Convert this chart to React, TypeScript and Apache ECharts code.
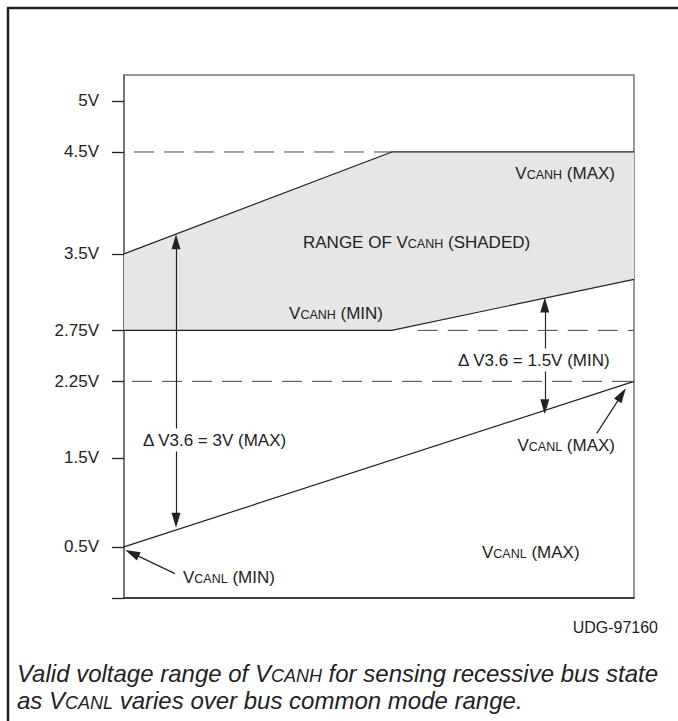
import React, { useEffect, useRef } from "react";
import * as echarts from "echarts";

// ---- data (volts); x = normalized position across bus common-mode range ----
const xPos = [0, 5.25, 10];
const vcanhMax = [3.5, 4.5, 4.5];
const vcanhMin = [2.75, 2.75, 3.25];
const vcanlX = [0, 10];
const vcanlMax = [0.5, 2.25];

const ref45X = [0, 5.25];
const ref45V = [4.5, 4.5];
const ref275X = [5.76, 10];
const ref275V = [2.75, 2.75];
const ref225X = [0, 10];
const ref225V = [2.25, 2.25];

const yTickVolts = [5, 4.5, 3.5, 2.75, 2.25, 1.5, 0.5];
const yTickLabels = ["5V", "4.5V", "3.5V", "2.75V", "2.25V", "1.5V", "0.5V"];

// annotation arrows: [x1, v1, x2, v2]
const arrow3V = [1.02, 3.62, 1.02, 0.8];
const arrow15V = [8.25, 3.0, 8.25, 2.0];
const arrowCanlMax = [9.27, 1.74, 9.76, 2.12];
const arrowCanlMin = [1.0, 0.2, 0.157, 0.43];

// the drawing's voltage axis is compressed below 1.5V
const toAxis = (v: number) => (v >= 1.5 ? v : 1.5 - (1.5 - v) * 0.874);
const Y_MIN = 0.125;
const Y_MAX = 5.255;

const FONT = "'Liberation Sans', Arial, Helvetica, sans-serif";
const INK = "#222";

const pts = (xs: number[], vs: number[]) => xs.map((x, i) => [x, toAxis(vs[i])]);

function richLabel(size: number, small: number, italic = false) {
  const base = {
    fontFamily: FONT,
    fill: INK,
    color: INK,
    verticalAlign: "bottom",
    fontStyle: italic ? "italic" : "normal",
  };
  return {
    n: { ...base, fontSize: size },
    s: { ...base, fontSize: small },
  };
}

const R17 = richLabel(17, 12.5);
const R24 = richLabel(24, 18, true);

function txt(text: string, x: number, y: number, align: string, rich: any, bg = false, extra: any = {}) {
  return {
    type: "text",
    x,
    y,
    z: 100,
    style: {
      text,
      rich,
      textAlign: align,
      textVerticalAlign: "middle",
      backgroundColor: bg ? "#fff" : undefined,
      padding: bg ? [3, 2] : 0,
      ...extra,
    },
  };
}

function arrowItem(a: number[], both: boolean) {
  return [
    { coord: [a[0], toAxis(a[1])], symbol: both ? "triangle" : "none" },
    { coord: [a[2], toAxis(a[3])], symbol: "triangle" },
  ];
}

export default function App() {
  const ref = useRef<HTMLDivElement>(null);
  useEffect(() => {
    if (!ref.current) return;
    const chart = echarts.init(ref.current, null, { renderer: "svg" });
    const dashed = (xs: number[], vs: number[], offset: number) => ({
      type: "line",
      data: pts(xs, vs),
      symbol: "none",
      silent: true,
      z: 3,
      lineStyle: { color: "#444", width: 1, type: [20, 10], dashOffset: offset },
    });
    const option: any = {
      animation: false,
      backgroundColor: "#fff",
      grid: {
        left: 124,
        right: 44,
        top: 75,
        bottom: 123,
        show: true,
        borderColor: "#777",
        borderWidth: 1.5,
        backgroundColor: "transparent",
      },
      xAxis: {
        type: "value",
        min: 0,
        max: 10,
        axisLine: { show: true, onZero: false, lineStyle: { color: INK, width: 1.5 } },
        axisTick: { show: false },
        axisLabel: { show: false },
        splitLine: { show: false },
      },
      yAxis: {
        type: "value",
        min: Y_MIN,
        max: Y_MAX,
        axisLine: { show: true, lineStyle: { color: "#6b6b6b", width: 1.5 } },
        axisTick: {
          show: true,
          length: 12,
          customValues: [...yTickVolts.map(toAxis), Y_MIN],
          lineStyle: { color: INK, width: 1.3 },
        },
        axisLabel: {
          show: true,
          margin: 25,
          customValues: yTickVolts.map(toAxis),
          fontFamily: FONT,
          fontSize: 17,
          color: INK,
          formatter: (val: number) => {
            const i = yTickVolts.findIndex((v) => Math.abs(toAxis(v) - val) < 1e-6);
            return i >= 0 ? yTickLabels[i] : "";
          },
        },
        splitLine: { show: false },
      },
      series: [
        {
          type: "custom",
          silent: true,
          z: 1,
          data: [[0, 0]],
          renderItem: (params: any, api: any) => {
            const top = xPos.map((x, i) => api.coord([x, toAxis(vcanhMax[i])]));
            const bot = xPos
              .map((x, i) => api.coord([x, toAxis(vcanhMin[i])]))
              .reverse();
            return {
              type: "polygon",
              shape: { points: [...top, ...bot] },
              style: { fill: "#e6e6e7" },
            };
          },
        },
        dashed(ref45X, ref45V, 20),
        dashed(ref275X, ref275V, 0),
        dashed(ref225X, ref225V, 22),
        {
          type: "line",
          data: pts(xPos, vcanhMax),
          symbol: "none",
          z: 4,
          lineStyle: { color: INK, width: 1.2 },
        },
        {
          type: "line",
          data: pts(xPos, vcanhMin),
          symbol: "none",
          z: 4,
          lineStyle: { color: INK, width: 1.2 },
        },
        {
          type: "line",
          data: pts(vcanlX, vcanlMax),
          symbol: "none",
          z: 4,
          lineStyle: { color: INK, width: 1.2 },
          markLine: {
            silent: true,
            animation: false,
            symbolSize: [9, 15],
            lineStyle: { color: INK, width: 1.2, type: "solid" },
            label: { show: false },
            emphasis: { disabled: true },
            data: [
              arrowItem(arrow3V, true),
              arrowItem(arrow15V, true),
              arrowItem(arrowCanlMax, false),
              arrowItem(arrowCanlMin, false),
            ],
          },
        },
      ],
      graphic: [
        { type: "line", z: 50, shape: { x1: 8, y1: 7, x2: 8, y2: 721 }, style: { stroke: INK, lineWidth: 2.5 } },
        { type: "line", z: 50, shape: { x1: 7, y1: 8, x2: 678, y2: 8 }, style: { stroke: INK, lineWidth: 2.5 } },
        txt("{n|V}{s|CANH}{n| (MAX)}", 615, 173, "right", R17),
        txt("{n|RANGE OF V}{s|CANH}{n| (SHADED)}", 303, 242, "left", R17),
        txt("{n|V}{s|CANH}{n| (MIN)}", 383, 313, "right", R17),
        txt("{n|Δ V3.6 = 1.5V (MIN)}", 456, 360, "left", R17, true),
        txt("{n|Δ V3.6 = 3V (MAX)}", 141, 440, "left", R17, true),
        txt("{n|V}{s|CANL}{n| (MAX)}", 615, 445, "right", R17),
        txt("{n|V}{s|CANL}{n| (MAX)}", 482, 552, "left", R17),
        txt("{n|V}{s|CANL}{n| (MIN)}", 183, 577, "left", R17),
        txt("{n|UDG-97160}", 658, 627, "right", richLabel(16, 12)),
        txt("{n|Valid voltage range of V}{s|CANH}{n| for sensing recessive bus state}", 17, 673, "left", R24),
        txt("{n|as V}{s|CANL}{n| varies over bus common mode range.}", 17, 700, "left", R24),
      ],
    };
    chart.setOption(option);
    return () => chart.dispose();
  }, []);
  return (
    <div
      ref={ref}
      style={{ position: "absolute", left: 0, top: 0, width: 678, height: 721, background: "#fff" }}
    />
  );
}
